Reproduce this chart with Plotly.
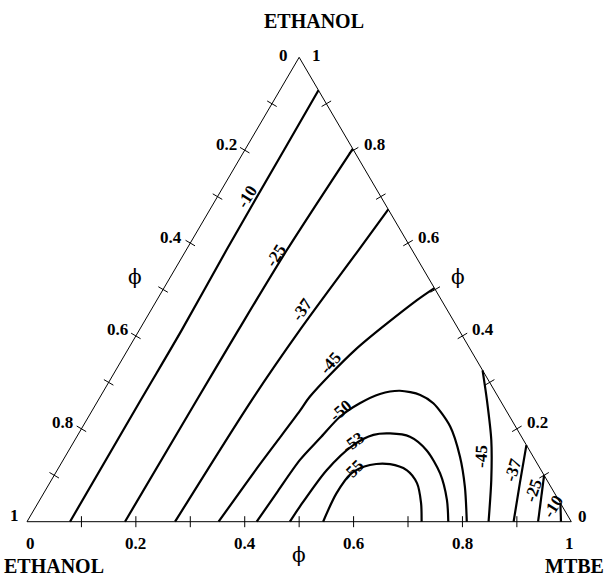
import plotly.graph_objects as go

# ---------------- data ----------------
# compositions are volume fractions: mtbe (bottom axis phi), ethanol (right axis phi)
tick_steps = [0.1, 0.2, 0.3, 0.4, 0.5, 0.6, 0.7, 0.8, 0.9]

left_values = [0, 0.2, 0.4, 0.6, 0.8, 1]        # phi along left edge (top -> bottom-left)
left_labels = ["0", "0.2", "0.4", "0.6", "0.8", "1"]
right_values = [1, 0.8, 0.6, 0.4, 0.2, 0]       # ethanol phi along right edge
right_labels = ["1", "0.8", "0.6", "0.4", "0.2", "0"]
bottom_values = [0, 0.2, 0.4, 0.6, 0.8, 1]      # MTBE phi along bottom edge
bottom_labels = ["0", "0.2", "0.4", "0.6", "0.8", "1"]

c10a_mtbe = [0.071, 0.072, 0.074, 0.078, 0.078, 0.079]
c10a_eth = [0.929, 0.800, 0.585, 0.413, 0.262, 0.0]
c25a_mtbe = [0.197, 0.185, 0.182, 0.181, 0.180]
c25a_eth = [0.803, 0.585, 0.413, 0.262, 0.0]
c37a_mtbe = [0.3275, 0.3167, 0.295, 0.282, 0.272]
c37a_eth = [0.6725, 0.585, 0.413, 0.262, 0.0]
c45a_mtbe = [0.497, 0.478, 0.418, 0.385, 0.382, 0.366, 0.352]
c45a_eth = [0.503, 0.477, 0.370, 0.269, 0.238, 0.124, 0.0]
c50_mtbe = [0.422, 0.428, 0.435, 0.4485, 0.462, 0.484, 0.511, 0.544, 0.586, 0.619, 0.675, 0.7255, 0.767, 0.808]
c50_eth = [0.0, 0.066, 0.133, 0.180, 0.226, 0.255, 0.275, 0.282, 0.273, 0.255, 0.205, 0.140, 0.075, 0.0]
c53_mtbe = [0.483, 0.485, 0.495, 0.517, 0.543, 0.572, 0.612, 0.657, 0.707, 0.748, 0.774]
c53_eth = [0.0, 0.032, 0.111, 0.165, 0.187, 0.190, 0.183, 0.154, 0.104, 0.047, 0.0]
c55_mtbe = [0.544, 0.538, 0.544, 0.569, 0.605, 0.642, 0.675, 0.704, 0.725]
c55_eth = [0.0, 0.061, 0.104, 0.122, 0.124, 0.111, 0.083, 0.040, 0.0]
c45b_mtbe = [0.674, 0.714, 0.765, 0.808, 0.848]
c45b_eth = [0.326, 0.262, 0.176, 0.090, 0.0]
c37b_mtbe = [0.835, 0.864, 0.894]
c37b_eth = [0.165, 0.083, 0.0]
c25b_mtbe = [0.900, 0.939]
c25b_eth = [0.100, 0.0]
c10b_mtbe = [0.960, 0.981]
c10b_eth = [0.040, 0.0]

contours = [
    (c10a_mtbe, c10a_eth), (c25a_mtbe, c25a_eth), (c37a_mtbe, c37a_eth),
    (c45a_mtbe, c45a_eth), (c50_mtbe, c50_eth), (c53_mtbe, c53_eth),
    (c55_mtbe, c55_eth), (c45b_mtbe, c45b_eth), (c37b_mtbe, c37b_eth),
    (c25b_mtbe, c25b_eth), (c10b_mtbe, c10b_eth),
]

label_text = ["-10", "-25", "-37", "-45", "-50", "-53", "-55", "-45", "-37", "-25", "-10"]
label_mtbe = [0.0535, 0.1698, 0.2779, 0.3873, 0.4561, 0.5144, 0.5428, 0.7647, 0.836, 0.8973, 0.9508]
label_eth = [0.7013, 0.5743, 0.4559, 0.3424, 0.2405, 0.1701, 0.1113, 0.1415, 0.1113, 0.0683, 0.0323]
label_angle = [-58, -57, -55, -49, -40, -37, -45, -87, -73, -72, -58]

# ---------------- geometry ----------------
W, H = 612, 579
PX_X, PX_Y = 544.3, 464.4         # pixels per unit of X and of ethanol fraction
X0_PX, Y0_PX = 27.0, 521.7        # pixel of the bottom-left vertex


def to_xy(m, e):
    return m + e / 2.0, e


FONT = "Liberation Serif"
fig = go.Figure()

# triangle frame
fx, fy = zip(*[to_xy(0, 0), to_xy(1, 0), to_xy(0, 1), to_xy(0, 0)])
fig.add_trace(go.Scatter(x=list(fx), y=list(fy), mode="lines",
                         line=dict(color="black", width=1), hoverinfo="skip"))

# tick crosses
half = 5.5
tx, ty = [], []
for k in tick_steps:
    x, y = to_xy(k, 0)
    tx += [x, x, None]
    ty += [y - half / PX_Y, y + half / PX_Y, None]
    x, y = to_xy(0, 1 - k)
    dx, dy = 0.8627 * half / PX_X, 0.5058 * half / PX_Y
    tx += [x - dx, x + dx, None]
    ty += [y + dy, y - dy, None]
    x, y = to_xy(1 - k, k)
    dx, dy = 0.8628 * half / PX_X, 0.5055 * half / PX_Y
    tx += [x - dx, x + dx, None]
    ty += [y - dy, y + dy, None]
fig.add_trace(go.Scatter(x=tx, y=ty, mode="lines",
                         line=dict(color="black", width=1), hoverinfo="skip"))

# contour lines
for m_list, e_list in contours:
    xs, ys = [], []
    for m, e in zip(m_list, e_list):
        x, y = to_xy(m, e)
        xs.append(x)
        ys.append(y)
    fig.add_trace(go.Scatter(x=xs, y=ys, mode="lines",
                             line=dict(color="black", width=2.2, shape="spline", smoothing=0.8),
                             hoverinfo="skip"))

ann = []
for t, m, e, a in zip(label_text, label_mtbe, label_eth, label_angle):
    x, y = to_xy(m, e)
    ann.append(dict(x=x, y=y, xref="x", yref="y", text="<b>%s</b>" % t, showarrow=False,
                    textangle=a, xanchor="center", yanchor="middle",
                    font=dict(family=FONT, size=17, color="black")))

tick_font = dict(family=FONT, size=17, color="black")
for v, t in zip(left_values, left_labels):
    x, y = to_xy(0, 1 - v)
    xs_, ys_ = (-9, 2) if v == 0 else (-6, 6)
    ann.append(dict(x=x, y=y, xref="x", yref="y", text="<b>%s</b>" % t, showarrow=False,
                    xanchor="right", yanchor="middle", xshift=xs_, yshift=ys_, font=tick_font))
for v, t in zip(right_values, right_labels):
    x, y = to_xy(1 - v, v)
    xs_, ys_ = (11, 2) if v == 1 else ((5, 5) if v == 0 else (8, 6))
    ann.append(dict(x=x, y=y, xref="x", yref="y", text="<b>%s</b>" % t, showarrow=False,
                    xanchor="left", yanchor="middle", xshift=xs_, yshift=ys_, font=tick_font))
for v, t in zip(bottom_values, bottom_labels):
    x, y = to_xy(v, 0)
    xs_ = 3 if v == 0 else (-2 if v == 1 else 0)
    ann.append(dict(x=x, y=y, xref="x", yref="y", text="<b>%s</b>" % t, showarrow=False,
                    xanchor="center", yanchor="middle", xshift=xs_, yshift=-21.5, font=tick_font))

phi_font = dict(family="DejaVu Serif", size=20, color="black")
ann.append(dict(x=0.5, y=0, xref="x", yref="y", text="\u03d5", showarrow=False,
                xanchor="center", yanchor="middle", yshift=-33, font=phi_font))
ann.append(dict(x=0.1984, y=0.5276, xref="x", yref="y", text="\u03d5", showarrow=False,
                xanchor="center", yanchor="middle", font=phi_font))
ann.append(dict(x=0.7924, y=0.5276, xref="x", yref="y", text="\u03d5", showarrow=False,
                xanchor="center", yanchor="middle", font=phi_font))

vfont = dict(family=FONT, size=20, color="black")
ann.append(dict(x=314 / W, y=1 - 21 / H, xref="paper", yref="paper", text="<b>ETHANOL</b>",
                showarrow=False, xanchor="center", yanchor="middle", font=vfont))
ann.append(dict(x=2 / W, y=1 - 566 / H, xref="paper", yref="paper", text="<b>ETHANOL</b>",
                showarrow=False, xanchor="left", yanchor="middle", font=vfont))
ann.append(dict(x=574 / W, y=1 - 566 / H, xref="paper", yref="paper", text="<b>MTBE</b>",
                showarrow=False, xanchor="center", yanchor="middle", font=vfont))

xr = [-X0_PX / PX_X, (W - X0_PX) / PX_X]
yr = [(Y0_PX - H) / PX_Y, Y0_PX / PX_Y]
fig.update_layout(
    width=W, height=H, margin=dict(l=0, r=0, t=0, b=0),
    paper_bgcolor="white", plot_bgcolor="white", showlegend=False,
    xaxis=dict(range=xr, visible=False, fixedrange=True),
    yaxis=dict(range=yr, visible=False, fixedrange=True),
    annotations=ann,
)
fig.write_html("out.html", config={"displayModeBar": False, "staticPlot": True},
               post_script="document.body.style.margin='0';document.body.style.overflow='hidden';")
